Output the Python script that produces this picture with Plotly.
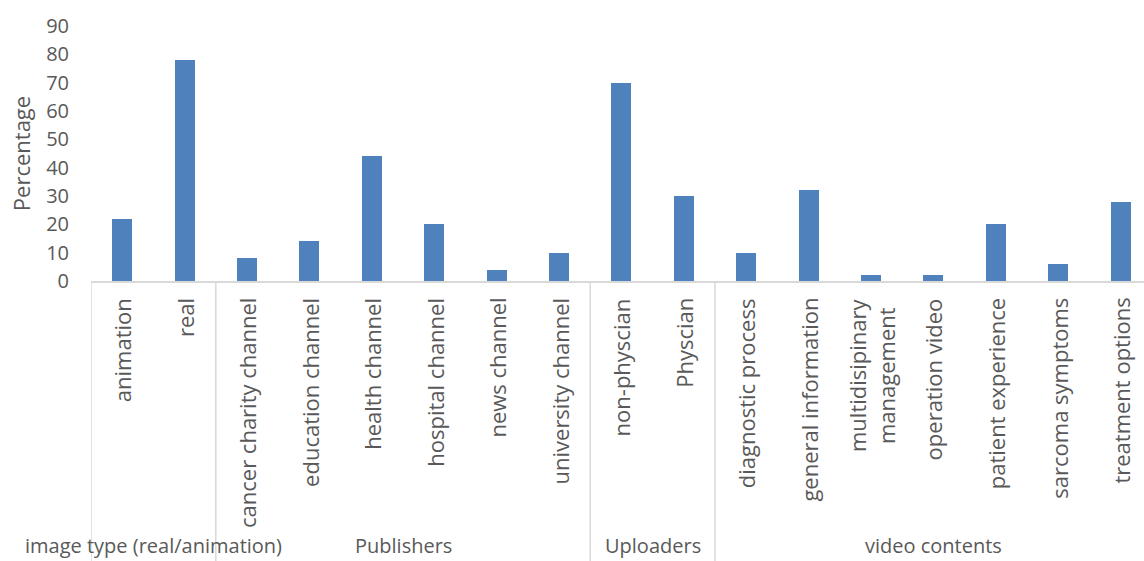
import plotly.graph_objects as go

# ---- data ----
groups = ["image type (real/animation)", "Publishers", "Uploaders", "video contents"]
group_sizes = [2, 6, 2, 7]
categories = [
    "animation", "real",
    "cancer charity channel", "education channel", "health channel",
    "hospital channel", "news channel", "university channel",
    "non-physcian", "Physcian",
    "diagnostic process", "general information", "multidisipinary<br>management",
    "operation video", "patient experience", "sarcoma symptoms", "treatment options",
]
values = [22, 78, 8, 14, 44, 20, 4, 10, 70, 30, 10, 32, 2, 2, 20, 6, 28]
y_ticks = [0, 10, 20, 30, 40, 50, 60, 70, 80, 90]
y_title = "Percentage"

# ---- style ----
FONT = "'Open Sans', Lato, sans-serif"
TXT = "#595959"
BAR = "#4F81BD"
LINE = "#D9D9D9"
W, H = 1144, 561
ML, MR, MT, MB = 91, 0, 26, 280
plot_h = H - MT - MB

xs = list(range(len(categories)))

fig = go.Figure(go.Bar(x=xs, y=values, width=0.32, marker=dict(color=BAR, line=dict(width=0)),
                       hoverinfo="skip"))

annotations = []
for i, c in enumerate(categories):
    annotations.append(dict(x=i, y=-15 / plot_h, xref="x", yref="paper", text=c,
                            textangle=-90, showarrow=False, xanchor="center", yanchor="top",
                            align="center", font=dict(family=FONT, size=22, color=TXT)))

shapes = []
start = -0.5
for g, n in zip(groups, group_sizes):
    end = start + n
    shapes.append(dict(type="line", xref="x", yref="paper", x0=start, x1=start,
                       y0=0, y1=-(MB) / plot_h, line=dict(color=LINE, width=1.5)))
    annotations.append(dict(x=(start + end) / 2, y=-(561 - (H - MB)) / plot_h, xref="x", yref="paper",
                            text=g, showarrow=False, xanchor="center", yanchor="bottom",
                            font=dict(family=FONT, size=20, color=TXT)))
    start = end

fig.update_layout(
    width=W, height=H,
    margin=dict(l=ML, r=MR, t=MT, b=MB),
    paper_bgcolor="white", plot_bgcolor="white",
    showlegend=False,
    font=dict(family=FONT, color=TXT),
    annotations=annotations, shapes=shapes,
    bargap=0,
)
fig.update_xaxes(range=[-0.5, 16.375], showticklabels=False, showgrid=False, zeroline=False,
                 showline=True, linecolor=LINE, linewidth=2, fixedrange=True)
fig.update_yaxes(range=[0, 90], tickvals=y_ticks, showgrid=False, zeroline=False, showline=False,
                 tickfont=dict(family=FONT, size=20, color=TXT), ticklabelstandoff=21,
                 title=dict(text=y_title, font=dict(family=FONT, size=22, color=TXT), standoff=9),
                 fixedrange=True)

fig.write_html("out.html")
